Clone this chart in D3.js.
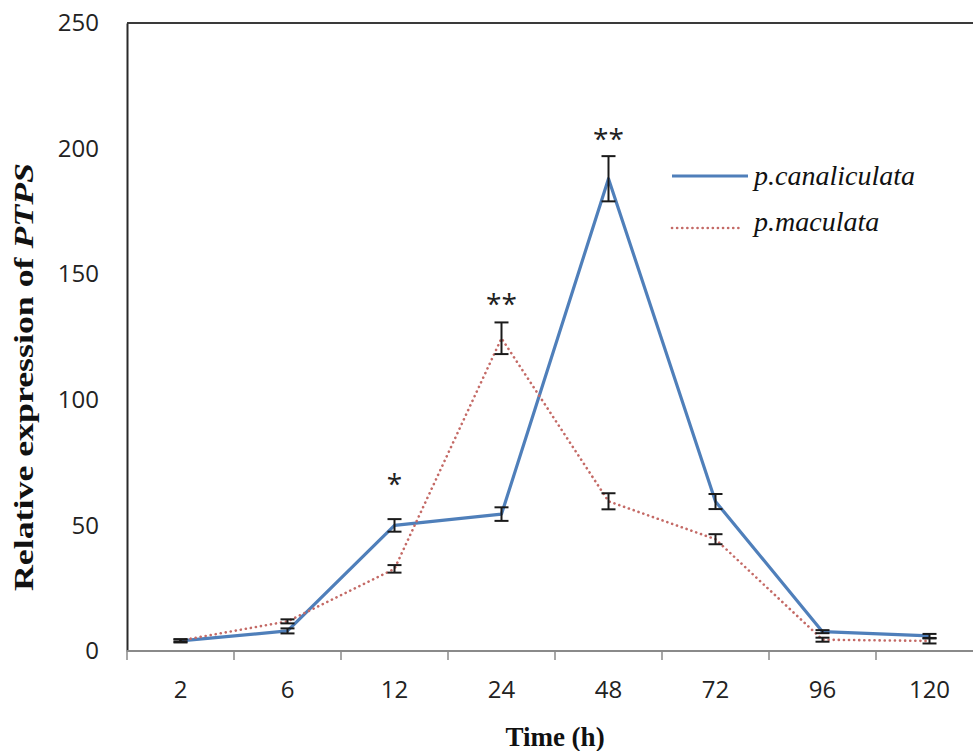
<!DOCTYPE html>
<html>
<head>
<meta charset="utf-8">
<script src="https://cdn.jsdelivr.net/npm/d3@7"></script>
<style>
  body { margin: 0; background: #fff; }
  svg { display: block; }
</style>
</head>
<body>
<svg width="973" height="751"></svg>
<script>
// ---- data ----
var times = ["2", "6", "12", "24", "48", "72", "96", "120"];
var canaliculata = [4, 8, 50, 54.5, 188, 59.5, 7.7, 6];
var canaliculataErr = [0.6, 1, 2.5, 2.7, 9, 3, 0.6, 0.8];
var maculata = [4.2, 11.8, 32.7, 124.5, 59.6, 44.5, 4.5, 4];
var maculataErr = [0.5, 0.8, 1.5, 6.3, 3.2, 2, 0.8, 1];
var yTicks = [0, 50, 100, 150, 200, 250];
// significance marks and the level they sit at
var sigTimes = ["12", "24", "48"];
var sigMarks = ["*", "**", "**"];
var sigLevel = [68.5, 140, 206];

var pic = d3.select("svg");

// plot box (right side runs past the picture edge)
var plotLeft = 127, plotRight = 983, plotTop = 23, plotBottom = 651;

var x = d3.scaleBand().domain(times).range([plotLeft, plotRight]);
var y = d3.scaleLinear().domain([0, 250]).range([plotBottom, plotTop]);
var cx = function(t){ return x(t) + x.bandwidth() / 2; };

// top border
pic.append("line")
  .attr("x1", plotLeft).attr("x2", 973).attr("y1", plotTop).attr("y2", plotTop)
  .attr("stroke", "#3a3a3a").attr("stroke-width", 2);

// y axis (no tick marks)
var yAxis = pic.append("g")
  .attr("transform", "translate(" + plotLeft + ",0)")
  .call(d3.axisLeft(y).tickValues(yTicks).tickSize(0).tickPadding(28));
yAxis.select(".domain").attr("stroke", "#2a2a2a").attr("stroke-width", 2);
yAxis.selectAll("text")
  .attr("font-family", "'Open Sans', sans-serif").attr("font-size", 24)
  .attr("fill", "#222");

// x axis: ticks between categories
var xAxis = pic.append("g")
  .attr("transform", "translate(0," + plotBottom + ")")
  .call(d3.axisBottom(x).tickSize(0).tickPadding(30));
xAxis.select(".domain").remove();
xAxis.append("line")
  .attr("x1", plotLeft).attr("x2", 973).attr("y1", 0).attr("y2", 0)
  .attr("stroke", "#8a8a8a").attr("stroke-width", 2);
xAxis.selectAll(".sep").data(times).enter().append("line")
  .attr("class", "sep")
  .attr("x1", function(d){ return x(d); }).attr("x2", function(d){ return x(d); })
  .attr("y1", 0).attr("y2", 9)
  .attr("stroke", "#8a8a8a").attr("stroke-width", 1.5);
xAxis.selectAll("text")
  .attr("font-family", "'Open Sans', sans-serif").attr("font-size", 24)
  .attr("fill", "#222");

// axis titles
pic.append("text")
  .attr("x", 555).attr("y", 746)
  .attr("text-anchor", "middle")
  .attr("font-family", "'Liberation Serif', serif").attr("font-weight", "bold")
  .attr("font-size", 27).attr("fill", "#111")
  .text("Time (h)");

var yt = pic.append("text")
  .attr("transform", "translate(33,377) rotate(-90)")
  .attr("text-anchor", "middle")
  .attr("font-family", "'Liberation Serif', serif").attr("font-weight", "bold")
  .attr("font-size", 27).attr("fill", "#111")
  .attr("textLength", 428).attr("lengthAdjust", "spacingAndGlyphs");
yt.append("tspan").text("Relative expression of ");
yt.append("tspan").attr("font-style", "italic").text("PTPS");

// lines
var line = d3.line()
  .x(function(d, i){ return cx(times[i]); })
  .y(function(d){ return y(d); });

pic.append("path").datum(canaliculata)
  .attr("d", line).attr("fill", "none")
  .attr("stroke", "#4f7fba").attr("stroke-width", 3.2)
  .attr("stroke-linejoin", "round");

pic.append("path").datum(maculata)
  .attr("d", line).attr("fill", "none")
  .attr("stroke", "#c46a66").attr("stroke-width", 2.6)
  .attr("stroke-dasharray", "0.1,5").attr("stroke-linecap", "round");

// error bars
var drawErr = function(vals, errs){
  var g = pic.append("g").attr("stroke", "#1a1a1a").attr("stroke-width", 2);
  vals.forEach(function(v, i){
    var px = cx(times[i]), hi = y(v + errs[i]), lo = y(v - errs[i]);
    g.append("line").attr("x1", px).attr("x2", px).attr("y1", hi).attr("y2", lo);
    g.append("line").attr("x1", px - 7).attr("x2", px + 7).attr("y1", hi).attr("y2", hi);
    g.append("line").attr("x1", px - 7).attr("x2", px + 7).attr("y1", lo).attr("y2", lo);
  });
};
drawErr(canaliculata, canaliculataErr);
drawErr(maculata, maculataErr);

// significance stars
pic.selectAll(".sig").data(sigTimes).enter().append("text")
  .attr("class", "sig")
  .attr("x", function(d){ return cx(d); })
  .attr("y", function(d, i){ return y(sigLevel[i]) + 15; })
  .attr("text-anchor", "middle")
  .attr("font-family", "'Open Sans', sans-serif").attr("font-size", 28)
  .attr("fill", "#222")
  .text(function(d, i){ return sigMarks[i]; });

// legend
var legend = pic.append("g");
legend.append("line")
  .attr("x1", 672).attr("x2", 748).attr("y1", 176).attr("y2", 176)
  .attr("stroke", "#4f7fba").attr("stroke-width", 3.2);
legend.append("line")
  .attr("x1", 672).attr("x2", 742).attr("y1", 228).attr("y2", 228)
  .attr("stroke", "#c46a66").attr("stroke-width", 2.6)
  .attr("stroke-dasharray", "0.1,5").attr("stroke-linecap", "round");
legend.append("text")
  .attr("x", 754).attr("y", 185)
  .attr("font-family", "'Liberation Serif', serif").attr("font-style", "italic")
  .attr("font-size", 28).attr("fill", "#111")
  .text("p.canaliculata");
legend.append("text")
  .attr("x", 754).attr("y", 231)
  .attr("font-family", "'Liberation Serif', serif").attr("font-style", "italic")
  .attr("font-size", 28).attr("fill", "#111")
  .text("p.maculata");
</script>
</body>
</html>
